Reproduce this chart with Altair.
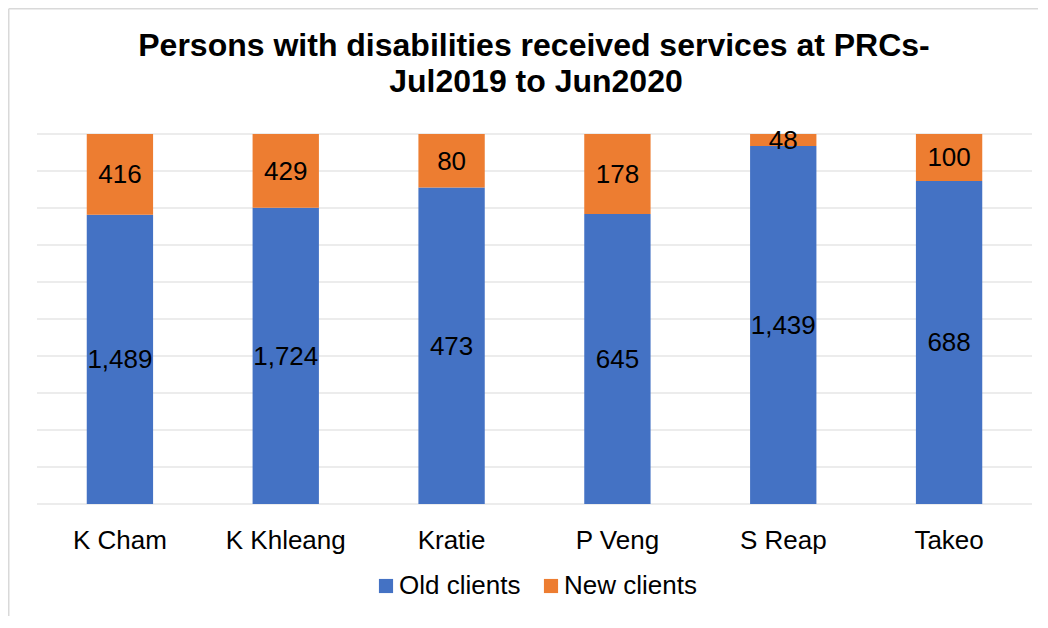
import altair as alt
import pandas as pd

sites = ["K Cham", "K Khleang", "Kratie", "P Veng", "S Reap", "Takeo"]
old_clients = [1489, 1724, 473, 645, 1439, 688]
new_clients = [416, 429, 80, 178, 48, 100]
series = ["Old clients", "New clients"]
colors = ["#4472C4", "#ED7D31"]
grid_values = [0, 0.1, 0.2, 0.3, 0.4, 0.5, 0.6, 0.7, 0.8, 0.9, 1.0]
title_line1 = "Persons with disabilities received services at PRCs-"
title_line2 = "Jul2019 to Jun2020"

rows = []
for s, o, n in zip(sites, old_clients, new_clients):
    rows.append({"site": s, "series": series[0], "order": 0, "value": o})
    rows.append({"site": s, "series": series[1], "order": 1, "value": n})
df = pd.DataFrame(rows)
grid_df = pd.DataFrame({"g": grid_values})

FONT = "Liberation Sans"
GRID = "#d9d9d9"

y_scale = alt.Scale(domain=[0, 1], nice=False)

base = alt.Chart(df).transform_stack(
    stack="value",
    groupby=["site"],
    as_=["y0", "y1"],
    offset="normalize",
    sort=[alt.SortField("order", order="ascending")],
).transform_calculate(mid="(datum.y0 + datum.y1) / 2")

x_enc = alt.X(
    "site:N",
    sort=sites,
    title=None,
    scale=alt.Scale(paddingInner=0.6, paddingOuter=0.3),
    axis=alt.Axis(
        labelFontSize=26,
        labelFont=FONT,
        labelColor="black",
        labelAngle=0,
        domain=False,
        ticks=False,
        tickSize=0,
        labelPadding=44,
        labelBaseline="alphabetic",
        grid=False,
    ),
)

gridlines = alt.Chart(grid_df).mark_rule(color=GRID, strokeWidth=1).encode(
    y=alt.Y("g:Q", scale=y_scale, axis=None)
)

bars = base.mark_bar().encode(
    x=x_enc,
    y=alt.Y("y0:Q", scale=y_scale, title=None, axis=None),
    y2="y1:Q",
    color=alt.Color(
        "series:N",
        scale=alt.Scale(domain=series, range=colors),
        legend=alt.Legend(
            title=None,
            orient="none",
            legendX=336,
            legendY=439,
            direction="horizontal",
            symbolType="square",
            symbolSize=200,
            symbolStrokeWidth=0,
            labelFontSize=26,
            labelFont=FONT,
            labelColor="black",
            labelOffset=0,
            columnPadding=17,
            padding=0,
        ),
    ),
)

labels = base.mark_text(
    fontSize=26, font=FONT, color="black", baseline="middle", dy=1
).encode(
    x=alt.X("site:N", sort=sites),
    y=alt.Y("mid:Q"),
    text=alt.Text("value:Q", format=","),
)

one = pd.DataFrame({"k": [0]})
title_style = dict(fontSize=32, font=FONT, fontWeight="bold", color="black",
                   align="center", baseline="alphabetic")
title1 = alt.Chart(one).mark_text(**title_style).encode(
    x=alt.value(497), y=alt.value(-78), text=alt.value(title_line1)
)
title2 = alt.Chart(one).mark_text(**title_style).encode(
    x=alt.value(499), y=alt.value(-42), text=alt.value(title_line2)
)

left_border = alt.Chart(one).mark_rule(color=GRID, strokeWidth=1.5).encode(
    x=alt.value(-28.25), y=alt.value(-125.25), y2=alt.value(500)
)
top_border = alt.Chart(one).mark_rule(color=GRID, strokeWidth=1.5).encode(
    x=alt.value(-28.25), x2=alt.value(1020), y=alt.value(-125.25)
)

chart = (
    alt.layer(left_border, top_border, gridlines, bars, labels, title1, title2)
    .properties(
        width=995,
        height=370,
        padding={"left": 29, "top": 126, "right": 6, "bottom": 112},
        autosize=alt.AutoSizeParams(type="none"),
        background="white",
    )
    .configure_view(stroke=None)
)

chart.save("out.html", embed_options={"renderer": "svg", "actions": False})
